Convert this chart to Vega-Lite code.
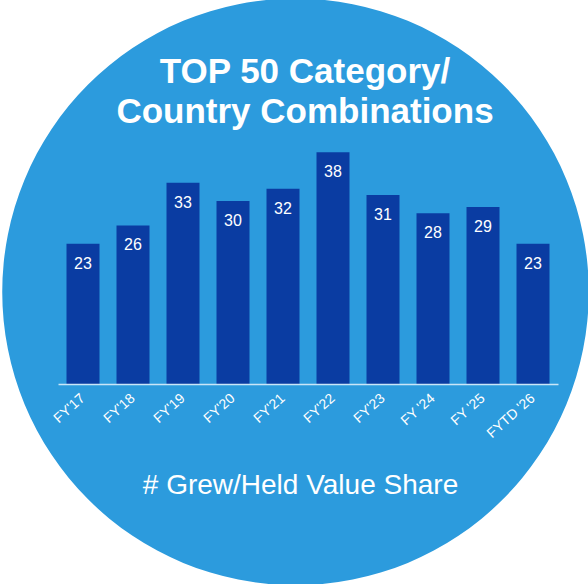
{
  "$schema": "https://vega.github.io/schema/vega-lite/v6.json",
  "autosize": {"type": "none"},
  "width": 500,
  "height": 244,
  "padding": {"left": 58, "top": 140, "right": 30, "bottom": 200},
  "background": "white",
  "config": {"view": {"stroke": null}, "font": "Liberation Sans"},
  "title": {
    "text": ["TOP 50 Category/", "Country Combinations"],
    "fontSize": 35,
    "fontWeight": "bold",
    "lineHeight": 40,
    "color": "white",
    "anchor": "middle",
    "frame": "group",
    "baseline": "alphabetic",
    "offset": -159,
    "font": "Liberation Sans",
    "dx": -3,
    "zindex": 2
  },
  "datasets": {
    "bars": [
      {"year": "FY'17", "count": 23},
      {"year": "FY'18", "count": 26},
      {"year": "FY'19", "count": 33},
      {"year": "FY'20", "count": 30},
      {"year": "FY'21", "count": 32},
      {"year": "FY'22", "count": 38},
      {"year": "FY'23", "count": 31},
      {"year": "FY '24", "count": 28},
      {"year": "FY '25", "count": 29},
      {"year": "FYTD '26", "count": 23}
    ],
    "backdrop": [{"cx": 0.475, "cy": 15.1}]
  },
  "layer": [
    {
      "data": {"name": "backdrop"},
      "mark": {"type": "point", "shape": "circle", "filled": true, "size": 344000, "color": "#2C9BDD", "opacity": 1},
      "encoding": {
        "x": {"field": "cx", "type": "quantitative", "scale": {"domain": [0, 1]}, "axis": null},
        "y": {"field": "cy", "type": "quantitative", "scale": {"domain": [0, 40]}, "axis": null}
      }
    },
    {
      "data": {"name": "bars"},
      "layer": [
        {
          "mark": {"type": "bar", "color": "#0A3CA2"},
          "encoding": {
            "x": {
              "field": "year", "type": "nominal", "sort": null,
              "scale": {"paddingInner": 0.34, "paddingOuter": 0.17},
              "axis": {
                "zindex": 2,
                "labelAngle": -42,
                "labelAlign": "right",
                "labelBaseline": "middle",
                "labelPadding": 12,
                "labelColor": "white",
                "labelFontSize": 14,
                "labelFont": "Liberation Sans",
                "ticks": false,
                "domainColor": "#C9E6F8",
                "domainWidth": 1.5,
                "grid": false,
                "title": "# Grew/Held Value Share",
                "titleFontSize": 28,
                "titleFontWeight": "normal",
                "titleColor": "white",
                "titleFont": "Liberation Sans",
                "titleBaseline": "alphabetic",
                "titleAnchor": "middle",
                "titleX": 242,
                "titleY": 109
              }
            },
            "y": {"field": "count", "type": "quantitative", "scale": {"domain": [0, 40]}, "axis": null}
          }
        },
        {
          "mark": {"type": "text", "color": "white", "fontSize": 16, "baseline": "middle", "dy": 20, "font": "Liberation Sans"},
          "encoding": {
            "x": {"field": "year", "type": "nominal", "sort": null},
            "y": {"field": "count", "type": "quantitative"},
            "text": {"field": "count", "type": "quantitative"}
          }
        }
      ]
    }
  ],
  "resolve": {"scale": {"x": "independent"}}
}
